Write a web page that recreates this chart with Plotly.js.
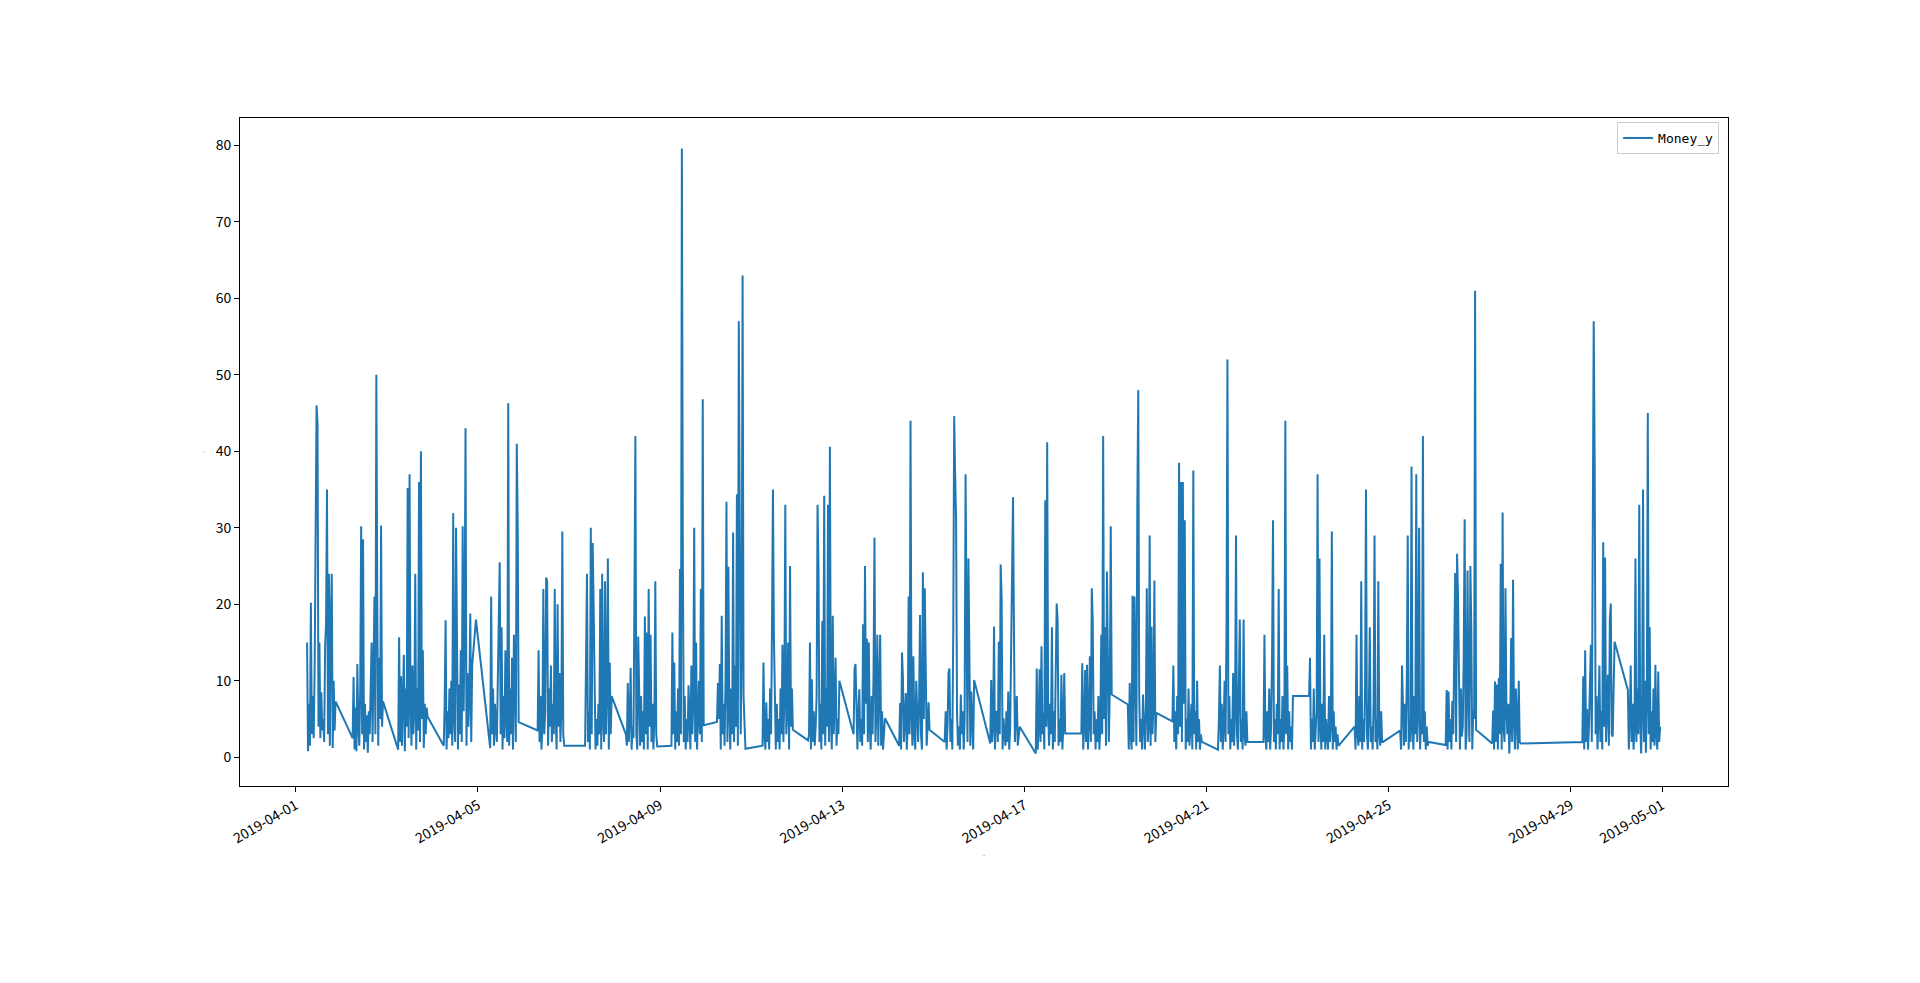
<!DOCTYPE html>
<html>
<head>
<meta charset="utf-8">
<script src="https://cdn.plot.ly/plotly-3.0.1.min.js"></script>
<style>
  html, body { margin: 0; padding: 0; background: #ffffff; }
  #chart { width: 1920px; height: 983px; }
</style>
</head>
<body>
<div id="chart"></div>
<script>
// half-hour reading slots within a day
const slots = ['06:00','06:30','07:00','07:30','08:00','08:30','09:00','09:30','10:00','10:30',
               '11:00','11:30','12:00','12:30','13:00','13:30','14:00','14:30','15:00','15:30',
               '16:00','16:30','17:00','17:30','18:00','18:30','19:00','19:30','20:00','20:30',
               '21:00','21:30','22:00','22:30','23:00'];

// days with data (no readings on 2019-04-28)
const days = ['2019-04-01','2019-04-02','2019-04-03','2019-04-04','2019-04-05','2019-04-06',
              '2019-04-07','2019-04-08','2019-04-09','2019-04-10','2019-04-11','2019-04-12',
              '2019-04-13','2019-04-14','2019-04-15','2019-04-16','2019-04-17','2019-04-18',
              '2019-04-19','2019-04-20','2019-04-21','2019-04-22','2019-04-23','2019-04-24',
              '2019-04-25','2019-04-26','2019-04-27','2019-04-29','2019-04-30'];

// Money_y per slot, null = no reading
const d0401 = [15,0.8,7,1.5,20.2, 3,8,2.5,12,29, 46,43.5,4,15,2.5, 8.5,3.5,5,2,14.5, 17.5,35,3,24,1.5, 18,24,1.2,10,3.5, 7.3,null,null,null,null];
const d0402 = [2.5,10.5,1,6.5,0.8, 12.2,4,1.5,9,30.2, 3,28.5,1,7,2, 5.5,0.6,6,3,8, 15,2,16,21,3, 50,20,1.5,13,5, 30.3,4,7.3,null,null];
const d0403 = [1,15.7,2,10.6,1.5, 8,13.4,0.8,9,4, 35.2,2.5,37,7,1.5, 12,3,6,24,1, 9,3.5,36,2,40, 5,14,1.2,7,3, 6.5,5.3,null,null,null];
const d0404 = [1.5,7,17.9,1,6, 2.5,9,3,10,1.5, 31.9,5,2,30,7, 1,9.5,3,14,2, 30.2,6,17,43,1.5, 11,4,8,18.8,2, 12,null,null,null,18];
const d0405 = [null,1.2,21,3,9, 1.5,7,4,2,10, 18.8,25.5,3,17,1, 8,2.5,14,5,2, 46.3,1.5,9,3,13, 1,16,6,2,41, 30,4.6,null,null,null];
const d0406 = [null,null,null,3.5,14, 2,8,1,4,22, 3,6,23.5,23,1.5, 9,4,12,2,7, 3,22,5,1,20, 4,11,2,6,29.5, 3,1.5,null,null,null];
const d0407 = [null,null,null,null,null, 1.5,17.4,24,2,6, 1,30,3,28,19.9, 10,1,5,1.5,7, 3,22,1,24,5, 2,23,3,9,26, 1,12.4,3,8,null];
const d0408 = [3,1.5,9.7,2,5, 11.7,1,4,2.5,21, 42,3,1,15.8,4, 1.5,8,2,6,1, 18.4,3,16.3,1,22, 4,16,2,7,1, 5,23,3,1.4,null];
const d0409 = [1.5,16.3,3,12.4,1, 6,2,9,1.5,24.6, 3,79.6,26.8,2,8, 1,5,2,9.4,4, 1,12,3,7,30, 2,15,1,6,10, 3,22,2,46.8,4.2];
const d0410 = [4.6,9.7,5,12.2,1, 18.5,3,7,1.5,10, 33.4,2,24.9,6,1, 9,3,29.4,2,12, 4,34.4,1.5,57,22.7, 3,14,63,8,3, 1.1,null,null,null,null];
const d0411 = [1.5,12.4,3,1,7.2, 2,5,1,9,3, 17.4,35,15.8,4,1, 7,2,5,1,9, 3,14.7,2,8,33, 3,6,15,1,25, 4,9,3.6,null,null];
const d0412 = [2.2,3,15,1,10.2, 2,6,1.5,4,8, 33,24.3,2,7,1, 17.8,3,34.2,1.5,9, 4,33,2,40.6,5, 1,18.5,3,7,13, 1.5,5,3,10,null];
const d0413 = [3,11.6,12.2,4,1, 6,8.9,2,5,1.5, 17.4,3,25,7,15.5, 2,15,4,1,8, 3,11,28.7,2,6, 16,1.5,9,16,1.5, 6,1,null,5.1,null];
const d0414 = [1.5,7.1,1,13.7,10.3, 2,5,8.4,1,4, 21,3,44,6,1.5, 13.2,3,1,10,4, 2,7,18.6,3,1, 24.2,5,22.1,9.7,1.5, 4,7.2,3.6,null,null];
const d0415 = [2,6,1,4,11, 11.6,2,5,1,16.2, 44.6,37,31,5.8,1.5, 4,1,8.2,3,6, 1,5,37,18.2,2, 26,6,1.5,8.6,3, 1,10.1,null,null,null];
const d0416 = [1.8,10.1,2,4,17.1, 1,6,5.8,2,15.1, 3,25.2,20.8,1,5.1, 3,1.5,6,2,8.6, 1,4,15.3,19.9,34, 16.2,2,6,8,1.5, 3,4,null,null,null];
const d0417 = [0.5,11.6,1,4,11.5, 2,14.5,3,5.8,1, 33.6,4,41.2,5.8,1.5, 7,3,17,1,6, 2,9,20.1,18,1.5, 5,2,10.8,1,4, 11,3.1,null,null,null];
const d0418 = [3.1,12.3,1,4,11.4, 2,12.1,1,5,13.2, 2,22.1,18,3,6, 1,5,2,8,1, 4,16,3,42,5, 17,1.5,24.3,6,2, 9,30.2,8.2,null,null];
const d0419 = [null,6.9,1,9.7,3, 1,21.1,2,21,5, 1.5,33.2,48,8,2, 5,1,8.2,3,1, 6,22.1,2,4,29, 1.5,17.1,3,7,23.1, 2,5.8,null,null,null];
const d0420 = [4.7,12,2,6,1, 8,3,38.5,4,36, 2,36,7,31,1, 5,2,9,1.5,4, 7,1,37.5,3,6, 1,10,2,5,1, 3,2,null,null,null];
const d0421 = [1,5,12,2,7, 1,4,10,2,17, 52,3,8,1,5, 2,11,1.5,6,29, 3,1,9,18,2, 5,1,18,3,1.5, 6,2,null,null,null];
const d0422 = [2,16,3,1,6, 2,9,1,4,13, 31,2,5,1,7, 3,22,1,5,2, 8,1,4,44,3, 12,1,6,2,4, 1,8,null,null,null];
const d0423 = [8,13,1,5,2, 9,1,3,6,37, 2,26,4,1,7, 2,16,1,5,3, 1,8,2,4,29.5, 1,6,2,4,1, 3,1.5,null,null,null];
const d0424 = [4,1,16,3,1.5, 8,2,23,1,5, 2,9,35,3,1, 6,17,2,4,1, 7,29,2,5,1, 23,3,1.5,6,2, 2,null,null,null,null];
const d0425 = [3.5,1,12,4,1.5, 7,2,10,29,1, 5,2,38,4,1, 8,3,37,2,6, 30,1,5,3,42, 2,6,1,4,1.5, 2,null,null,null,null];
const d0426 = [1.6,8.8,1,8.6,2, 5,1,7.4,3,17.6, 24.1,2,26.6,21,5, 1,9,2.7,4,13.3, 31.1,1,3,24.4,8, 2,25,17.1,1,6.1, 5,61,3.6,null,null];
const d0427 = [null,1.8,6.1,1,9.9, 2,9.5,1,10.4,3, 25.3,1,32,4,2, 22.1,6,3,7,0.5, 4,15.6,2,23.2,5, 1,9,3,1,10, 2,1.8,null,null,null];
const d0429 = [2,10.6,1,14,2, 6.3,1,4,12,14.7, 2,25,57,39,3, 8,1,5,12,2, 6,1,28.1,4,26.1, 2,7,10.8,1.5,18, 20.1,3,2.7,null,15.1];
const d0430 = [8.8,1,5,12,2, 7,1,4,26,2, 9,3,33,5,0.5, 6,35,2,10,0.6, 8,45,3,17,1, 6,2,9,1.5,12.1, 3,1,11.2,2,4];

const money = [d0401,d0402,d0403,d0404,d0405,d0406,d0407,d0408,d0409,d0410,
               d0411,d0412,d0413,d0414,d0415,d0416,d0417,d0418,d0419,d0420,
               d0421,d0422,d0423,d0424,d0425,d0426,d0427,d0429,d0430];

const tickDates = ['2019-04-01','2019-04-05','2019-04-09','2019-04-13','2019-04-17',
                   '2019-04-21','2019-04-25','2019-04-29','2019-05-01'];
const yTicks = [0,10,20,30,40,50,60,70,80];

// flatten days x slots into one time series, skipping empty slots
const xs = [];
const ys = [];
days.forEach((day, d) => {
    money[d].forEach((v, s) => {
        if (v === null) return;
        xs.push(day + ' ' + slots[s]);
        ys.push(v);
    });
});

const font = 'Noto Sans CJK SC, DejaVu Sans, sans-serif';

const trace = {
    x: xs,
    y: ys,
    type: 'scatter',
    mode: 'lines',
    name: 'Money_y',
    line: { color: '#1f77b4', width: 2 },
    hoverinfo: 'x+y'
};

const axisCommon = {
    showline: true,
    mirror: true,
    linecolor: '#000000',
    linewidth: 1,
    showgrid: false,
    zeroline: false,
    ticks: 'outside',
    ticklen: 5,
    tickwidth: 1,
    tickcolor: '#000000',
    tickfont: { family: font, size: 14, color: '#000000' }
};

const layout = {
    width: 1920,
    height: 983,
    margin: { l: 240, r: 192, t: 118, b: 197, pad: 0 },
    paper_bgcolor: '#ffffff',
    plot_bgcolor: '#ffffff',
    showlegend: true,
    legend: {
        x: 0.994, y: 0.994, xanchor: 'right', yanchor: 'top',
        bgcolor: '#ffffff', bordercolor: '#cccccc', borderwidth: 1,
        font: { family: 'DejaVu Sans Mono, monospace', size: 13, color: '#000000' }
    },
    xaxis: Object.assign({}, axisCommon, {
        type: 'date',
        range: ['2019-03-30 18:39', '2019-05-02 10:46'],
        tickmode: 'array',
        tickvals: tickDates,
        ticktext: tickDates,
        tickangle: -30,
        title: { text: '-', font: { family: font, size: 6, color: '#555555' }, standoff: 6 }
    }),
    yaxis: Object.assign({}, axisCommon, {
        range: [-3.76, 83.58],
        tickmode: 'array',
        tickvals: yTicks,
        ticktext: yTicks.map(String),
        title: { text: '-', font: { family: font, size: 6, color: '#555555' }, standoff: 8 }
    })
};

Plotly.newPlot('chart', [trace], layout, { displayModeBar: false, staticPlot: true });
</script>
</body>
</html>
